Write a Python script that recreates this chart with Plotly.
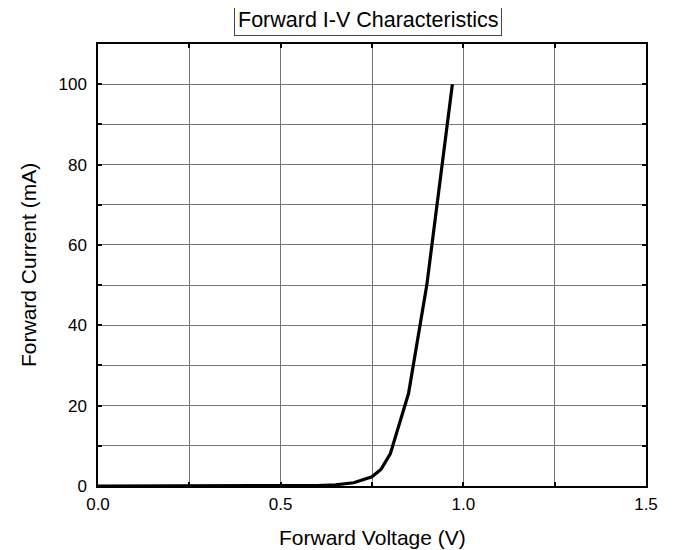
import plotly.graph_objects as go

voltage = [0.0, 0.3, 0.5, 0.6, 0.65, 0.7, 0.75, 0.775, 0.8, 0.85, 0.9, 0.97]
current = [0.0, 0.0, 0.0, 0.1, 0.3, 0.8, 2.3, 4.2, 8.0, 23.0, 50.0, 100.0]

x_tickvals = [0.0, 0.25, 0.5, 0.75, 1.0, 1.25, 1.5]
x_ticktext = ["0.0", "", "0.5", "", "1.0", "", "1.5"]
y_tickvals = [0, 10, 20, 30, 40, 50, 60, 70, 80, 90, 100, 110]
y_ticktext = ["0", "", "20", "", "40", "", "60", "", "80", "", "100", ""]

title_text = "Forward I-V Characteristics"
x_title = "Forward Voltage (V)"
y_title = "Forward Current (mA)"

font = "Liberation Sans, Arial, sans-serif"

fig = go.Figure()
fig.add_trace(go.Scatter(x=voltage, y=current, mode="lines",
                         line=dict(color="black", width=3.2),
                         showlegend=False, hoverinfo="skip"))

axis_common = dict(
    showline=True, linecolor="black", linewidth=1.5, mirror="ticks",
    ticks="inside", ticklen=4, tickwidth=1.5, tickcolor="black",
    showgrid=True, gridcolor="#767676", gridwidth=1,
    zeroline=False, tickfont=dict(family=font, size=17, color="black"),
    automargin=False,
)

# page body has an 8px margin, so the figure is sized/offset to compensate
fig.update_layout(
    width=665, height=542,
    margin=dict(l=90, r=27, t=36, b=64),
    paper_bgcolor="white", plot_bgcolor="white",
    font=dict(family=font, color="black"),
    xaxis=dict(range=[0, 1.5], tickmode="array", tickvals=x_tickvals, ticktext=x_ticktext,
               ticklabelstandoff=2, **axis_common),
    yaxis=dict(range=[0, 110], tickmode="array", tickvals=y_tickvals, ticktext=y_ticktext,
               ticklabelstandoff=6, **axis_common),
    annotations=[
        dict(text=title_text, xref="paper", yref="paper",
             x=0.4918, y=1.0, yshift=24, xanchor="center", yanchor="middle",
             showarrow=False, font=dict(family=font, size=21.5, color="black"),
             bordercolor="#444", borderwidth=1, borderpad=3, bgcolor="white"),
        dict(text=x_title, xref="paper", yref="paper",
             x=0.5, y=0, yshift=-51, xanchor="center", yanchor="middle",
             showarrow=False, font=dict(family=font, size=21, color="black")),
        dict(text=y_title, xref="paper", yref="paper", textangle=-90,
             x=0, y=0.5, xshift=-70, xanchor="center", yanchor="middle",
             showarrow=False, font=dict(family=font, size=21, color="black")),
    ],
)

fig.write_html("out.html")
